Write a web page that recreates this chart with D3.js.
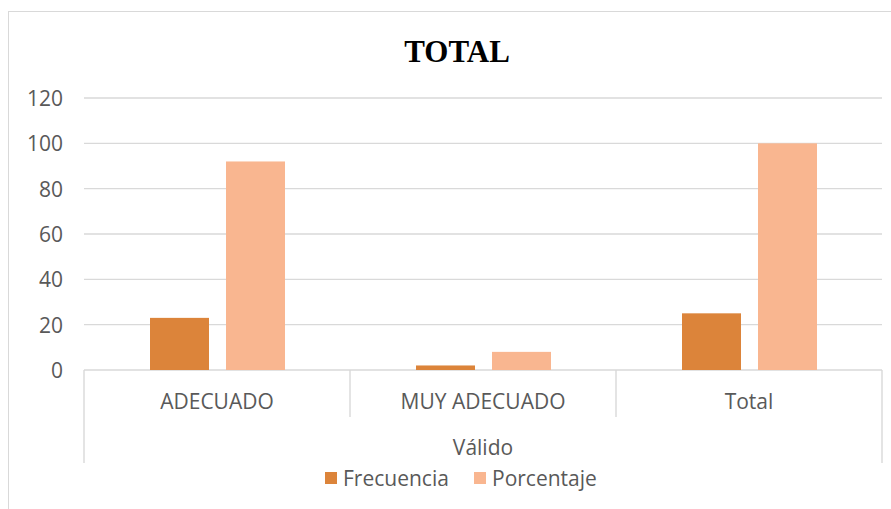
<!DOCTYPE html>
<html>
<head>
<meta charset="utf-8">
<script src="https://cdn.jsdelivr.net/npm/d3@7"></script>
<style>
  html, body { margin: 0; padding: 0; background: #fff; }
  svg { display: block; }
</style>
</head>
<body>
<svg id="chart" width="891" height="509"></svg>
<script>
const title = "TOTAL";
const categories = ["ADECUADO", "MUY ADECUADO", "Total"];
const groupLabel = "Válido";
const seriesNames = ["Frecuencia", "Porcentaje"];
const frecuencia = [23, 2, 25];
const porcentaje = [92, 8, 100];
const yTicks = [0, 20, 40, 60, 80, 100, 120];
const colors = ["#DC843A", "#F9B690"];

const seriesValues = [frecuencia, porcentaje];
const font = "'Open Sans', 'DejaVu Sans', sans-serif";
const fontSize = "21px";
const textColor = "#595959";
const gridColor = "#D9D9D9";

const svg = d3.select("#chart");

// chart area border
svg.append("rect")
  .attr("x", 8.5).attr("y", 11.5)
  .attr("width", 900).attr("height", 520)
  .attr("fill", "none").attr("stroke", gridColor).attr("stroke-width", 1);

const plotLeft = 84, plotRight = 882, plotTop = 98, plotBottom = 370;

const x = d3.scaleBand().domain(categories).range([plotLeft, plotRight]).padding(0);
const xInner = d3.scaleBand().domain(seriesNames).range([66, 201]).paddingInner(17 / 76).paddingOuter(0);
const y = d3.scaleLinear().domain([0, 120]).range([plotBottom, plotTop]);

// gridlines
svg.append("g").selectAll("line").data(yTicks).join("line")
  .attr("x1", plotLeft).attr("x2", plotRight)
  .attr("y1", d => y(d)).attr("y2", d => y(d))
  .attr("stroke", gridColor).attr("stroke-width", 1.4);

// y axis labels
const yAxis = d3.axisLeft(y).tickValues(yTicks).tickSize(0).tickPadding(0);
const yg = svg.append("g").attr("transform", `translate(${plotLeft - 21},0)`).call(yAxis);
yg.select(".domain").remove();
yg.selectAll("text")
  .attr("font-family", font).attr("font-size", fontSize).attr("fill", textColor)
  .attr("dy", "0.35em");

// bars
const barG = svg.append("g");
seriesNames.forEach((s, si) => {
  barG.append("g").selectAll("rect").data(categories).join("rect")
    .attr("x", d => x(d) + xInner(s))
    .attr("width", xInner.bandwidth())
    .attr("y", (d, i) => y(seriesValues[si][i]))
    .attr("height", (d, i) => y(0) - y(seriesValues[si][i]))
    .attr("fill", colors[si]);
});

// category separators
const sepG = svg.append("g");
categories.forEach((c, i) => {
  if (i > 0) {
    sepG.append("line")
      .attr("x1", x(c)).attr("x2", x(c))
      .attr("y1", plotBottom).attr("y2", 417)
      .attr("stroke", gridColor).attr("stroke-width", 1.4);
  }
});
[plotLeft, plotRight].forEach(px => {
  sepG.append("line")
    .attr("x1", px).attr("x2", px)
    .attr("y1", plotBottom).attr("y2", 463)
    .attr("stroke", gridColor).attr("stroke-width", 1.4);
});

// category labels
svg.append("g").selectAll("text").data(categories).join("text")
  .attr("x", d => x(d) + x.bandwidth() / 2)
  .attr("y", 409)
  .attr("text-anchor", "middle")
  .attr("font-family", font).attr("font-size", fontSize).attr("fill", textColor)
  .text(d => d);

// group label
svg.append("text")
  .attr("x", (plotLeft + plotRight) / 2).attr("y", 455)
  .attr("text-anchor", "middle")
  .attr("font-family", font).attr("font-size", fontSize).attr("fill", textColor)
  .text(groupLabel);

// title
svg.append("text")
  .attr("x", 457).attr("y", 62)
  .attr("text-anchor", "middle")
  .attr("font-family", "'Liberation Serif', 'Times New Roman', serif")
  .attr("font-weight", "bold").attr("font-size", "31px").attr("fill", "#000")
  .text(title);

// legend
const legendX = [325, 474];
const lg = svg.append("g");
seriesNames.forEach((s, i) => {
  lg.append("rect")
    .attr("x", legendX[i]).attr("y", 472)
    .attr("width", 12).attr("height", 12)
    .attr("fill", colors[i]);
  lg.append("text")
    .attr("x", legendX[i] + 18).attr("y", 486)
    .attr("font-family", font).attr("font-size", fontSize).attr("fill", textColor)
    .text(s);
});
</script>
</body>
</html>
